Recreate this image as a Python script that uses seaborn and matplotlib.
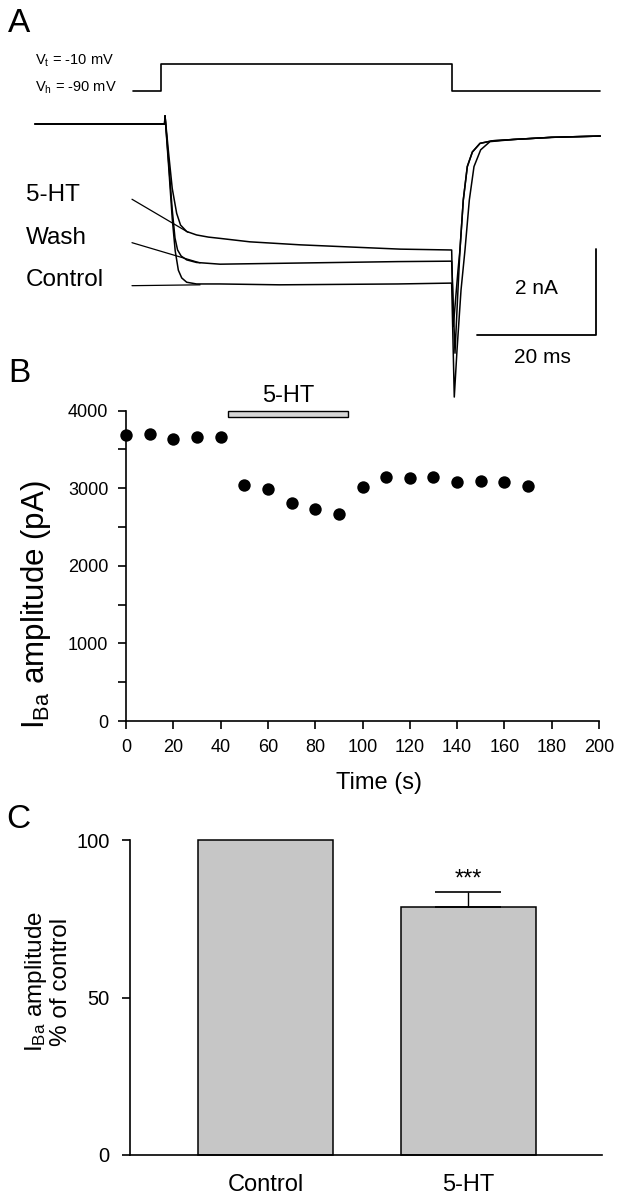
import numpy as np
import pandas as pd
import matplotlib
matplotlib.use("Agg")
import matplotlib.pyplot as plt
from matplotlib.patches import Rectangle
import seaborn as sns

# ---- A: voltage protocol (ms, mV)
step_t = [-4.7, 0.0, 0.0, 49.1, 49.1, 74.2]
step_v = [-90, -90, -10, -10, -90, -90]

# ---- A: IBa traces (ms, nA)
ctrl_t = [-21.3, -10.0, 0.6, 0.68, 1.3, 1.9, 2.4, 2.93, 3.5, 4.34, 6.0, 9.97, 20, 30, 40, 49.1,
          49.54, 50.0, 50.68, 51.35, 52.08, 52.87, 54.0, 55.57, 59.5, 66.0, 74.2]
ctrl_i = [0, 0, 0, 0.19, -1.0, -2.2, -2.95, -3.40, -3.58, -3.68, -3.72, -3.72, -3.74, -3.73, -3.72, -3.70,
          -6.35, -5.26, -3.86, -2.93, -1.77, -0.99, -0.60, -0.41, -0.36, -0.31, -0.28]

wash_t = [-21.3, -10.0, 0.6, 0.68, 1.3, 1.9, 2.36, 2.8, 3.4, 4.34, 6.0, 9.97, 20, 30, 40, 49.1,
          49.66, 50.08, 50.5, 51.06, 51.74, 52.6, 53.89, 56.0, 59.5, 66.0, 74.2]
wash_i = [0, 0, 0, 0.19, -0.9, -2.0, -2.65, -2.93, -3.07, -3.16, -3.22, -3.26, -3.24, -3.22, -3.20, -3.19,
          -5.33, -4.09, -2.93, -1.77, -0.99, -0.65, -0.45, -0.39, -0.36, -0.31, -0.28]

ht_t = [-21.3, -10.0, 0.6, 0.68, 1.3, 1.9, 2.65, 3.3, 4.34, 6.0, 8.0, 9.97, 15, 23.5, 31.9, 40.4, 49.1,
        49.38, 50.17, 50.5, 51.06, 51.74, 52.6, 53.89, 56.0, 59.5, 66.0, 74.2]
ht_i = [0, 0, 0, 0.19, -0.7, -1.5, -2.08, -2.35, -2.50, -2.58, -2.63, -2.66, -2.74, -2.81, -2.86, -2.91, -2.93,
        -4.71, -3.40, -2.93, -1.77, -0.99, -0.65, -0.45, -0.39, -0.36, -0.31, -0.28]

# ---- B: time course
b_time = [0, 10, 20, 30, 40, 50, 60, 70, 80, 90, 100, 110, 120, 130, 140, 150, 160, 170]
b_amp = [3690, 3700, 3630, 3665, 3660, 3048, 2995, 2815, 2735, 2670,
         3012, 3148, 3132, 3150, 3080, 3090, 3080, 3025]
app_start, app_stop = 43.1, 93.9

# ---- C: summary
c_groups = ["Control", "5-HT"]
c_means = [100, 78.8]
c_sem = [0, 4.7]

W, H = 617, 1199


def px_rect(l, t, r, b):
    return [l / W, 1 - b / H, (r - l) / W, (b - t) / H]


def fxy(x, y):
    return x / W, 1 - y / H


sns.set_theme(style="ticks")
plt.rcParams['font.family'] = ['Liberation Sans', 'DejaVu Sans']
plt.rcParams['mathtext.fontset'] = 'custom'
plt.rcParams['mathtext.rm'] = 'Liberation Sans'
plt.rcParams['mathtext.it'] = 'Liberation Sans:italic'
for k in ['text.color', 'axes.labelcolor', 'xtick.color', 'ytick.color', 'axes.edgecolor']:
    plt.rcParams[k] = 'black'

fig = plt.figure(figsize=(W / 100, H / 100), dpi=100)
fig.patch.set_facecolor('white')

xl_A = ((30 - 161) / 5.92, (610 - 161) / 5.92)

# voltage step
axV = fig.add_axes(px_rect(30, 50, 610, 100))
sns.lineplot(x=step_t, y=step_v, sort=False, estimator=None, color='black', lw=1.2, ax=axV)
axV.set_xlim(*xl_A)
axV.set_ylim(-118.2, 33.3)
axV.axis('off')

# current traces
axA = fig.add_axes(px_rect(30, 100, 610, 410))
for tt, ii in [(ctrl_t, ctrl_i), (wash_t, wash_i), (ht_t, ht_i)]:
    sns.lineplot(x=tt, y=ii, sort=False, estimator=None, color='black', lw=1.1, ax=axA)
axA.set_xlim(*xl_A)
axA.set_ylim(-(410 - 124) / 43, (124 - 100) / 43)
axA.axis('off')

# pointer lines from labels
axA.plot([-4.9, 4.6], [-1.75, -2.52], color='black', lw=0.9)
axA.plot([-4.9, 6.6], [-2.76, -3.23], color='black', lw=0.9)
axA.plot([-4.9, 6.6], [-3.76, -3.74], color='black', lw=0.9)

# scale bars
axA.plot([53.4, 73.4, 73.4], [-4.91, -4.91, -2.91], color='black', lw=1.3)
axA.text(63.5, -3.82, '2 nA', ha='center', va='center', fontsize=15)
axA.text(64.5, -5.43, '20 ms', ha='center', va='center', fontsize=15)

fig.text(*fxy(35, 65), 'V$_\\mathregular{t}$ = -10 mV', fontsize=10.5, va='baseline')
fig.text(*fxy(35, 91.7), 'V$_\\mathregular{h}$ = -90 mV', fontsize=10.5, va='baseline')
for lab, yb in [('5-HT', 200.7), ('Wash', 244), ('Control', 285.7)]:
    fig.text(*fxy(26, yb), lab, fontsize=17.5, va='baseline')

fig.text(*fxy(8, 32), 'A', fontsize=24, va='baseline')
fig.text(*fxy(8, 382), 'B', fontsize=24, va='baseline')
fig.text(*fxy(6, 828), 'C', fontsize=24, va='baseline')

# ---- B
axB = fig.add_axes(px_rect(126, 410.7, 599, 721))
sns.scatterplot(x=b_time, y=b_amp, s=80, color='black', linewidth=0, ax=axB,
                clip_on=False, zorder=3)
axB.set_xlim(0, 200)
axB.set_ylim(0, 4000)
axB.set_xticks(range(0, 201, 20))
axB.set_yticks(range(0, 4001, 1000))
axB.set_yticks(range(500, 4000, 1000), minor=True)
sns.despine(ax=axB)
for s in ['left', 'bottom']:
    axB.spines[s].set_linewidth(1.2)
axB.tick_params(which='both', direction='out', length=5.8, width=1.2, labelsize=13, pad=7)
axB.add_patch(Rectangle((app_start, 3915), app_stop - app_start, 85, facecolor='#d6d6d6',
                        edgecolor='black', lw=1, clip_on=False, zorder=4))
axB.text((app_start + app_stop) / 2, 4112, '5-HT', ha='center', va='baseline', fontsize=17)
axB.set_xlabel('Time (s)', fontsize=17, va='center')
axB.xaxis.set_label_coords(0.535, -0.2)
axB.set_ylabel('I$_\\mathregular{Ba}$ amplitude (pA)', fontsize=22.5, va='center')
axB.yaxis.set_label_coords(-0.191, 0.375)

# ---- C
axC = fig.add_axes(px_rect(130, 840, 602, 1155))
sns.barplot(x=c_groups, y=c_means, color='#c6c6c6', saturation=1, edgecolor='black',
            linewidth=1.1, width=0.668, errorbar=None, ax=axC)
for p in axC.patches:
    p.set_clip_on(False)
axC.errorbar(x=[1], y=[c_means[1]], yerr=[[0], [c_sem[1]]], fmt='none', ecolor='black',
             elinewidth=1, capsize=24, capthick=1.2, zorder=5, clip_on=False)
axC.text(1, 87.6, '***', ha='center', va='center', fontsize=17)
axC.set_xlim(-0.668, 1.659)
axC.set_ylim(0, 100)
axC.set_yticks([0, 50, 100])
sns.despine(ax=axC)
for s in ['left', 'bottom']:
    axC.spines[s].set_linewidth(1.2)
axC.tick_params(axis='y', direction='out', length=5.8, width=1.2, labelsize=14.5, pad=9)
axC.tick_params(axis='x', length=0, labelsize=17, pad=14)
axC.set_xlabel('')
axC.set_ylabel('I$_\\mathregular{Ba}$ amplitude\n% of control', fontsize=17.5, va='center',
               linespacing=1.05)
axC.yaxis.set_label_coords(-0.175, 0.55)

fig.savefig('out.png', dpi=100)
